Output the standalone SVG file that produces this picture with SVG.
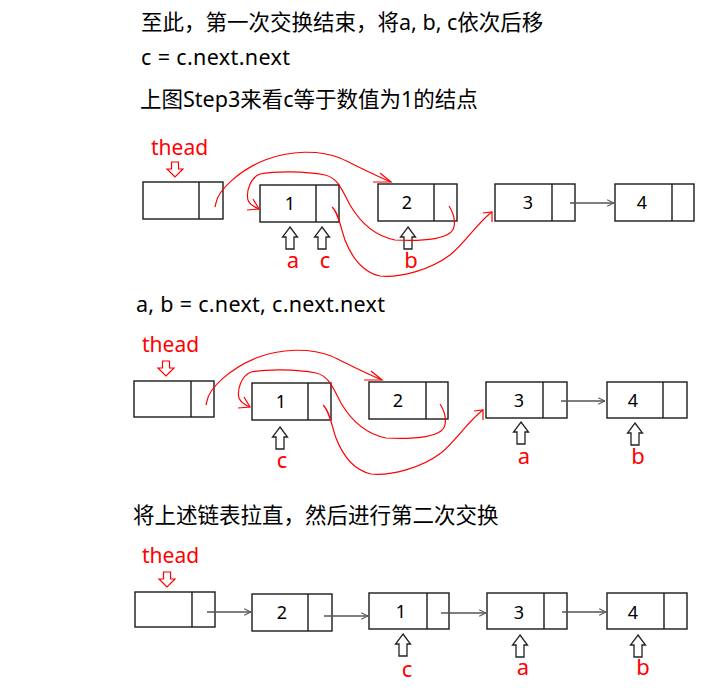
<svg xmlns="http://www.w3.org/2000/svg" xmlns:xlink="http://www.w3.org/1999/xlink" width="718" height="691" viewBox="0 0 718 691">
<style>
.bg{fill:#fff}
.box{fill:#fff;stroke:#1a1a1a;stroke-width:1.4}
.div{stroke:#1a1a1a;stroke-width:1.4}
.val{font-family:"Noto Sans","Noto Sans CJK SC",sans-serif;font-size:18px;fill:#000;text-anchor:middle}
.hdr{font-family:"Noto Sans","Noto Sans CJK SC",sans-serif;font-size:21.5px;fill:#000}
.lbl{font-family:"Noto Sans","Noto Sans CJK SC",sans-serif;font-size:22px;fill:#f00;text-anchor:middle}
.thead{font-family:"Noto Sans","Noto Sans CJK SC",sans-serif;font-size:21px;fill:#f00}
.ptr{fill:#fff;stroke:#222;stroke-width:1.3}
.hptr{fill:#fff;stroke:#f00;stroke-width:1.2}
.link{stroke:#555;stroke-width:1.3;fill:none;marker-end:url(#ah)}
.red{stroke:#f00;stroke-width:1.2;fill:none}
</style>
<defs>
<marker id="ah" viewBox="0 0 10 10" refX="9.5" refY="5" markerWidth="8" markerHeight="8" markerUnits="userSpaceOnUse" orient="auto">
<path d="M1,1 L9.5,5 L1,9" fill="none" stroke="#555" stroke-width="1.4"/>
</marker>
<path id="up" d="M0,0 L7.5,10 L4,10 L4,22 L-4,22 L-4,10 L-7.5,10 Z"/>
<path id="down" d="M-3.5,0 L3.5,0 L3.5,7 L8,7 L0,15 L-8,7 L-3.5,7 Z"/>
</defs>
<rect class="bg" x="0" y="0" width="718" height="691"/>

<g id="headers">
<text class="hdr" x="141" y="30">至此，第一次交换结束，将a, b, c依次后移</text>
<text class="hdr" x="141" y="65" textLength="149" lengthAdjust="spacing">c = c.next.next</text>
<text class="hdr" x="140" y="107">上图Step3来看c等于数值为1的结点</text>
<text class="hdr" x="136" y="312" textLength="249" lengthAdjust="spacing">a, b = c.next, c.next.next</text>
<text class="hdr" x="133" y="523">将上述链表拉直，然后进行第二次交换</text>
</g>

<!-- Row 1 -->
<g id="r1-head"><rect class="box" x="143" y="182" width="80" height="37"/><line class="div" x1="199" y1="182" x2="199" y2="219"/></g>
<g id="r1-n1"><rect class="box" x="260" y="185" width="79" height="37"/><line class="div" x1="316" y1="185" x2="316" y2="222"/><text class="val" x="290" y="210">1</text></g>
<g id="r1-n2"><rect class="box" x="378" y="184" width="79" height="37"/><line class="div" x1="434" y1="184" x2="434" y2="221"/><text class="val" x="407" y="209">2</text></g>
<g id="r1-n3"><rect class="box" x="495" y="184" width="80" height="37"/><line class="div" x1="552" y1="184" x2="552" y2="221"/><text class="val" x="528" y="209">3</text></g>
<g id="r1-n4"><rect class="box" x="615" y="184" width="79" height="37"/><line class="div" x1="672" y1="184" x2="672" y2="221"/><text class="val" x="642" y="209">4</text></g>
<g id="r1-ptrs">
<text class="thead" x="151" y="155">thead</text>
<use href="#down" xlink:href="#down" class="hptr" x="175" y="162"/>
<use href="#up" xlink:href="#up" class="ptr" x="290" y="227"/>
<use href="#up" xlink:href="#up" class="ptr" x="322" y="227"/>
<use href="#up" xlink:href="#up" class="ptr" x="408" y="227"/>
<text class="lbl" x="293" y="268">a</text>
<text class="lbl" x="325" y="268">c</text>
<text class="lbl" x="411" y="268">b</text>
</g>

<!-- Row 2 -->
<g id="r2-head"><rect class="box" x="134" y="381" width="80" height="36"/><line class="div" x1="191" y1="381" x2="191" y2="417"/></g>
<g id="r2-n1"><rect class="box" x="252" y="383" width="79" height="37"/><line class="div" x1="308" y1="383" x2="308" y2="420"/><text class="val" x="281" y="408">1</text></g>
<g id="r2-n2"><rect class="box" x="369" y="382" width="79" height="37"/><line class="div" x1="426" y1="382" x2="426" y2="419"/><text class="val" x="398" y="407">2</text></g>
<g id="r2-n3"><rect class="box" x="486" y="382" width="81" height="36"/><line class="div" x1="543" y1="382" x2="543" y2="418"/><text class="val" x="519" y="407">3</text></g>
<g id="r2-n4"><rect class="box" x="607" y="382" width="80" height="36"/><line class="div" x1="663" y1="382" x2="663" y2="418"/><text class="val" x="633" y="407">4</text></g>
<g id="r2-ptrs">
<text class="thead" x="142" y="352">thead</text>
<use href="#down" xlink:href="#down" class="hptr" x="166" y="361"/>
<use href="#up" xlink:href="#up" class="ptr" x="280" y="427"/>
<use href="#up" xlink:href="#up" class="ptr" x="521" y="422"/>
<use href="#up" xlink:href="#up" class="ptr" x="635" y="423"/>
<text class="lbl" x="282" y="468">c</text>
<text class="lbl" x="524" y="464">a</text>
<text class="lbl" x="638" y="464">b</text>
</g>

<!-- Row 3 -->
<g id="r3-head"><rect class="box" x="135" y="592" width="80" height="35"/><line class="div" x1="192" y1="592" x2="192" y2="627"/></g>
<g id="r3-n2"><rect class="box" x="252" y="594" width="80" height="37"/><line class="div" x1="308" y1="594" x2="308" y2="631"/><text class="val" x="282" y="619">2</text></g>
<g id="r3-n1"><rect class="box" x="369" y="593" width="80" height="36"/><line class="div" x1="427" y1="593" x2="427" y2="629"/><text class="val" x="401" y="618">1</text></g>
<g id="r3-n3"><rect class="box" x="487" y="593" width="80" height="36"/><line class="div" x1="544" y1="593" x2="544" y2="629"/><text class="val" x="519" y="619">3</text></g>
<g id="r3-n4"><rect class="box" x="607" y="593" width="80" height="36"/><line class="div" x1="664" y1="593" x2="664" y2="629"/><text class="val" x="633" y="619">4</text></g>
<g id="r3-ptrs">
<text class="thead" x="142" y="563">thead</text>
<use href="#down" xlink:href="#down" class="hptr" x="167" y="572"/>
<use href="#up" xlink:href="#up" class="ptr" x="403" y="634"/>
<use href="#up" xlink:href="#up" class="ptr" x="520" y="635"/>
<use href="#up" xlink:href="#up" class="ptr" x="638" y="635"/>
<text class="lbl" x="407" y="677">c</text>
<text class="lbl" x="523" y="675">a</text>
<text class="lbl" x="643" y="675">b</text>
</g>

<g id="connectors">
<line class="link" x1="570" y1="203" x2="614" y2="203"/>
<line class="link" x1="561" y1="401" x2="605" y2="401"/>
<line class="link" x1="207" y1="612" x2="251" y2="612"/>
<line class="link" x1="324" y1="616" x2="368" y2="616"/>
<line class="link" x1="441" y1="613" x2="486" y2="613"/>
<line class="link" x1="562" y1="612" x2="606" y2="612"/>
<g id="red-r1">
<path class="red" d="M215,207 L216,203 C218,190 240,170 265,160 C290,150 320,150 340,158 C355,165 372,174 391,182"/>
<path class="red" d="M380,173 L391,182 L373,182"/>
<path class="red" d="M449,206 C455,215 457,228 450,233 C440,240 415,241 395,240 C375,236 360,222 350,205 C342,190 338,178 325,175 C305,171 275,171 260,174 C250,178 246,192 248,200 C250,205 254,207 259,209"/>
<path class="red" d="M253,199 L259,209 L247,210"/>
<path class="red" d="M332,207 C338,212 340,225 345,240 C352,258 362,272 380,276 C400,278 430,270 450,255 C465,243 478,222 492,212"/>
<path class="red" d="M483,213 L492,212 L492,222"/>
</g>
<g id="red-r2" transform="translate(-9,198)">
<path class="red" d="M215,207 L216,203 C218,190 240,170 265,160 C290,150 320,150 340,158 C355,165 372,174 391,182"/>
<path class="red" d="M380,173 L391,182 L373,182"/>
<path class="red" d="M449,206 C455,215 457,228 450,233 C440,240 415,241 395,240 C375,236 360,222 350,205 C342,190 338,178 325,175 C305,171 275,171 260,174 C250,178 246,192 248,200 C250,205 254,207 259,209"/>
<path class="red" d="M253,199 L259,209 L247,210"/>
<path class="red" d="M332,207 C338,212 340,225 345,240 C352,258 362,272 380,276 C400,278 430,270 450,255 C465,243 478,222 492,212"/>
<path class="red" d="M483,213 L492,212 L492,222"/>
</g>
</g>
</svg>
